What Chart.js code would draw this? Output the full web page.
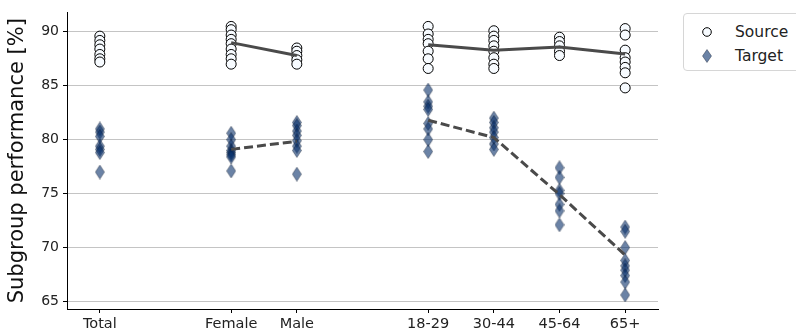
<!DOCTYPE html>
<html>
<head>
<meta charset="utf-8">
<script src="https://cdn.jsdelivr.net/npm/chart.js@4/dist/chart.umd.min.js"></script>
<style>
  html, body { margin: 0; padding: 0; background: #fff; overflow: hidden; }
  #wrap { position: relative; width: 796px; height: 330px; }
  #legend {
    position: absolute; left: 683px; top: 13px; width: 130px; height: 56px;
    border: 1px solid #d6d6d6; border-radius: 4px; background: #fff;
    font-family: "DejaVu Sans", sans-serif; font-size: 15.5px; color: #222;
  }
  .item { position: absolute; left: 0; height: 20px; line-height: 20px; }
  .item span { position: absolute; left: 51px; white-space: nowrap; }
  .item canvas { position: absolute; }
</style>
</head>
<body>
<div id="wrap">
  <canvas id="chart" width="796" height="330"></canvas>
  <div id="legend">
    <div class="item" style="top:8px"><canvas id="legSrc" width="12" height="12" style="left:17px;top:4px"></canvas><span>Source</span></div>
    <div class="item" style="top:32px"><canvas id="legTgt" width="10" height="14" style="left:18px;top:3px"></canvas><span>Target</span></div>
  </div>
</div>
<script>
// categories and where they sit on the x axis (gaps separate the groups)
const categories = ["Total", "Female", "Male", "18-29", "30-44", "45-64", "65+"];
const categoryPos = [0, 2, 3, 5, 6, 7, 8];

// per-run performance on the source domain
const sourceValues = [
  [89.6, 89.2, 88.8, 88.4, 87.9, 87.5, 87.2],
  [90.5, 90.2, 89.7, 89.3, 88.9, 88.4, 87.9, 87.5, 87.0],
  [88.5, 88.2, 87.8, 87.4, 87.0],
  [90.5, 89.8, 89.3, 88.9, 88.2, 87.5, 86.6],
  [90.1, 89.6, 89.2, 88.7, 88.2, 87.6, 87.0, 86.6],
  [89.5, 89.1, 88.7, 88.2, 87.8],
  [90.3, 89.7, 88.3, 87.6, 87.2, 86.7, 86.2, 84.8]
];

// per-run performance on the target domain
const targetValues = [
  [81.0, 80.7, 80.3, 79.4, 79.1, 78.8, 77.0],
  [80.6, 80.0, 79.4, 79.0, 78.8, 78.6, 78.4, 77.1],
  [81.6, 81.3, 80.8, 80.4, 79.9, 79.4, 79.0, 76.8],
  [84.6, 83.5, 83.1, 82.8, 81.5, 81.0, 80.0, 78.9],
  [82.0, 81.6, 81.1, 80.7, 80.2, 79.6, 79.1],
  [77.4, 76.5, 75.3, 75.0, 74.0, 73.4, 72.1],
  [71.9, 71.5, 70.0, 68.8, 68.3, 67.9, 67.4, 66.8, 65.6]
];

// group means drawn as connecting lines
const sexSourceMean = [89.0, 87.8];
const sexTargetMean = [79.1, 79.85];
const ageSourceMean = [88.8, 88.3, 88.6, 87.95];
const ageTargetMean = [81.8, 80.2, 74.9, 69.3];

const yTicks = [65, 70, 75, 80, 85, 90];

function diamond(w, h) {
  const c = document.createElement("canvas");
  c.width = w; c.height = h;
  const g = c.getContext("2d");
  g.beginPath();
  g.moveTo(w / 2, 0.5);
  g.lineTo(w - 0.5, h / 2);
  g.lineTo(w / 2, h - 0.5);
  g.lineTo(0.5, h / 2);
  g.closePath();
  g.fillStyle = "rgba(8,48,107,0.6)";
  g.fill();
  g.lineWidth = 0.7;
  g.strokeStyle = "rgba(10,20,40,0.55)";
  g.stroke();
  return c;
}
const diamondImg = diamond(10, 15);

// legend icons
(function () {
  const s = document.getElementById("legSrc").getContext("2d");
  s.beginPath(); s.arc(6, 6, 4.3, 0, Math.PI * 2);
  s.fillStyle = "#f7fbff"; s.fill();
  s.lineWidth = 1; s.strokeStyle = "#000"; s.stroke();
  const t = document.getElementById("legTgt").getContext("2d");
  t.drawImage(diamond(10, 14), 0, 0);
})();

function pts(values) {
  const out = [];
  values.forEach((arr, i) => arr.forEach(v => out.push({ x: categoryPos[i], y: v })));
  return out;
}
function meanLine(means, idx) {
  return means.map((v, k) => ({ x: categoryPos[idx[k]], y: v }));
}

const lineStyle = { type: "line", borderColor: "#4a4a4a", borderWidth: 3, pointRadius: 0, fill: false, order: 0 };

new Chart(document.getElementById("chart"), {
  type: "scatter",
  data: {
    datasets: [
      { ...lineStyle, data: meanLine(sexSourceMean, [1, 2]) },
      { ...lineStyle, data: meanLine(ageSourceMean, [3, 4, 5, 6]) },
      { ...lineStyle, borderDash: [9, 4], data: meanLine(sexTargetMean, [1, 2]) },
      { ...lineStyle, borderDash: [9, 4], data: meanLine(ageTargetMean, [3, 4, 5, 6]) },
      {
        label: "Source", data: pts(sourceValues), order: 1,
        pointStyle: "circle", pointRadius: 5, borderWidth: 1,
        backgroundColor: "#f7fbff", borderColor: "#000"
      },
      {
        label: "Target", data: pts(targetValues), order: 1,
        pointStyle: diamondImg, pointRadius: 5
      }
    ]
  },
  options: {
    responsive: false,
    animation: false,
    events: [],
    layout: { padding: { left: 0, right: 138, top: 12, bottom: 0 } },
    plugins: { legend: { display: false }, tooltip: { enabled: false } },
    scales: {
      x: {
        type: "linear", min: -0.5, max: 8.5,
        afterBuildTicks: s => { s.ticks = categoryPos.map(v => ({ value: v })); },
        afterFit: s => { s.height = 21; },
        ticks: {
          callback: v => categories[categoryPos.indexOf(v)],
          font: { family: "DejaVu Sans", size: 14.5 }, color: "#222", padding: 3, maxRotation: 0
        },
        grid: { drawOnChartArea: false, tickLength: 4, tickColor: "#000" },
        border: { color: "#000", width: 1 }
      },
      y: {
        min: 64.3, max: 91.8,
        afterBuildTicks: s => { s.ticks = yTicks.map(v => ({ value: v })); },
        afterFit: s => { s.width = 67; },
        ticks: { font: { family: "DejaVu Sans", size: 14 }, color: "#222", padding: 4 },
        grid: { color: "#c4c4c4", lineWidth: 1, tickLength: 4, tickColor: "#000" },
        border: { color: "#000", width: 1 },
        title: {
          display: true, text: "Subgroup performance [%]",
          font: { family: "DejaVu Sans", size: 21 }, color: "#111", padding: { top: 5, bottom: 0 }
        }
      }
    }
  }
});
</script>
</body>
</html>
